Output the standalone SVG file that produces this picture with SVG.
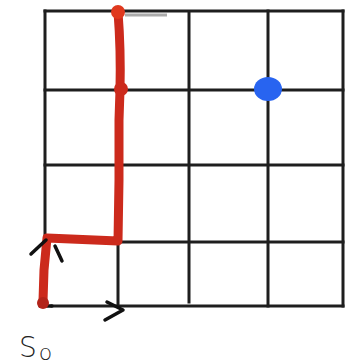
<svg xmlns="http://www.w3.org/2000/svg" width="360" height="364" viewBox="0 0 360 364">
<style>
.grid{stroke:#1e1e1e;stroke-width:3;fill:none;stroke-linecap:square}
.red{stroke:#cc2a1c;stroke-width:9;fill:none;stroke-linecap:round;stroke-linejoin:round}
.ink{stroke:#111;stroke-width:3.5;fill:none;stroke-linecap:round;stroke-linejoin:round}
.lbl{font-family:"DejaVu Sans",sans-serif;font-weight:200;fill:#222}
</style>
<rect width="360" height="364" fill="#fff"/>
<g id="grid">
<path class="grid" d="M45 11 H343 M45 90 H343 M45 165 H343 M118 242 H343 M52 306 H343"/>
<path class="grid" d="M45 11 V240 M118 11 V306 M189 12 V302 M268 11 V306 M343 11 V306"/>
<path d="M125 15 H167" stroke="#aaa" stroke-width="3"/>
</g>
<g id="connectors">
<path class="ink" d="M40 306 L52 306"/>
<path class="red" d="M43 301 L44 270 L47 238 L118 241 L119 180 L119 120 L120 90 Q121 50 118 12"/>
<circle cx="43" cy="303" r="6" fill="#b3241a"/>
<circle cx="118" cy="12" r="7" fill="#e0391e"/>
<circle cx="121" cy="89" r="7" fill="#cc2a1c"/>
<path class="ink" d="M31 254 L46 240 M55 246 L62 261"/>
<path class="ink" d="M107 302 L123 310 L105 320"/>
</g>
<g id="goal">
<ellipse cx="268" cy="89" rx="14" ry="12" fill="#2864f0"/>
</g>
<g id="start-label">
<text class="lbl" x="19" y="357" font-size="28">S<tspan font-size="22" dx="2" dy="3">o</tspan></text>
</g>
</svg>
